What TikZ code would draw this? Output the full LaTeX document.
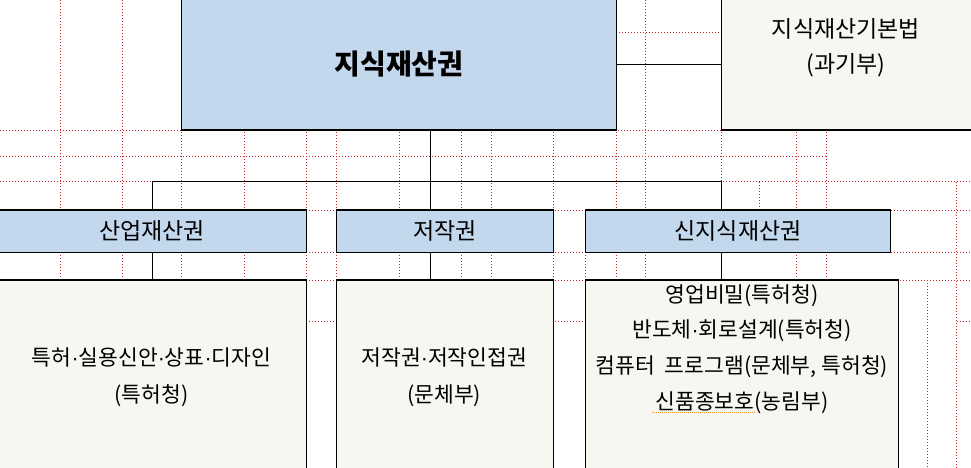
\documentclass[tikz,border=0pt]{standalone}
\usepackage{fontspec}
\setmainfont{Noto Sans CJK KR}
\newfontfamily\dotfont{Liberation Sans}
\newcommand{\mdot}{{\dotfont ·}}
\definecolor{boxblue}{RGB}{195,215,237}
\definecolor{boxbeige}{RGB}{248,246,240}
\definecolor{gridred}{RGB}{200,40,40}
\definecolor{spellorange}{RGB}{230,150,40}
\begin{document}
\begin{tikzpicture}[x=1pt,y=-1pt,
  grid/.style={draw=gridred, line width=0.9pt, dash pattern=on 1pt off 2pt},
  frame/.style={draw=black, line width=1.2pt, rectangle, inner sep=0pt, outer sep=0pt},
  bluebox/.style={frame, fill=boxblue},
  beigebox/.style={frame, fill=boxbeige},
  conn/.style={draw=black, line width=1.2pt},
  lvltwo/.style={font=\fontsize{23pt}{27pt}\selectfont},
  bodytext/.style={align=center, inner sep=0pt, font=\fontsize{21.5pt}{36.7pt}\selectfont},
]
\useasboundingbox (0,0) rectangle (971,468);
\clip (0,0) rectangle (971,468);
\fill[white] (0,0) rectangle (971,468);

% table grid (dotted)
\foreach \x in {60.7,122.3,181.7,244.7,306.3,336,399.3,461.3,491.7,553.3,616.7,645.3,721.3,796.7,826}
  \draw[grid] (\x,0) -- (\x,468);
\draw[grid] (585.7,210) -- (585.7,468);
\draw[grid] (759.3,181.7) -- (759.3,210);
\draw[grid] (927.7,280) -- (927.7,468);
\draw[grid] (956.7,181.7) -- (956.7,468);
\foreach \y in {130,181.7,210,252.3,280}
  \draw[grid] (0,\y) -- (971,\y);
\draw[grid] (0,156) -- (826,156);
\draw[grid] (616,32.3) -- (721.3,32.3);
\draw[grid] (306.3,321) -- (585.7,321);
\draw[grid] (956.7,321) -- (971,321);

% boxes
\node[bluebox, minimum width=434.6pt, minimum height=131.5pt,
      font=\bfseries\fontsize{28pt}{32pt}\selectfont] (root) at (399,64.25) {지식재산권};
\node[beigebox, minimum width=253.7pt, minimum height=131.5pt] (law) at (848.15,64.25) {};
\node[bodytext, font=\fontsize{23pt}{35pt}\selectfont] (lawT) at (846,47.5) {지식재산기본법\\(과기부)};

\node[bluebox, lvltwo, minimum width=308.3pt, minimum height=42.3pt] (ind) at (152.15,231.15) {산업재산권};
\node[bluebox, lvltwo, minimum width=216.6pt, minimum height=42.3pt] (cop) at (445,231.15) {저작권};
\node[bluebox, lvltwo, minimum width=304.6pt, minimum height=42.3pt] (neo) at (738,231.15) {신지식재산권};

\node[beigebox, minimum width=308.3pt, minimum height=200pt] (indD) at (152.15,380) {};
\node[beigebox, minimum width=216.6pt, minimum height=200pt] (copD) at (445,380) {};
\node[beigebox, minimum width=312.6pt, minimum height=200pt] (neoD) at (742,380) {};

\node[bodytext] (indT) at (151.5,377.3) {특허\mdot 실용신안\mdot 상표\mdot 디자인\\(특허청)};
\node[bodytext] (copT) at (444.2,377.3) {저작권\mdot 저작인접권\\(문체부)};
\node[bodytext, font=\fontsize{21.5pt}{35.7pt}\selectfont] (neoT) at (742,349)
  {영업비밀(특허청)\\반도체\mdot 회로설계(특허청)\\컴퓨터~ 프로그램(문체부, 특허청)\\신품종보호(농림부)};

% spell-check underline
\draw[spellorange, line width=0.8pt, dash pattern=on 1pt off 1pt] (651.7,412.3) -- (755,412.3);

% connectors
\coordinate (bL) at (152.3,181.5);
\coordinate (bM) at (430.3,181.5);
\coordinate (bR) at (721.3,181.5);
\draw[conn] (root.east) -- (law.west);
\draw[conn] (root.south -| bM) -- (bM);
\draw[conn] (ind.north -| bL) -- (bL) -- (bR) -- (neo.north -| bR);
\draw[conn] (bM) -- (cop.north -| bM);
\draw[conn] (ind.south -| bL) -- (indD.north -| bL);
\draw[conn] (cop.south -| bM) -- (copD.north -| bM);
\draw[conn] (neo.south -| bR) -- (neoD.north -| bR);
\end{tikzpicture}
\end{document}
